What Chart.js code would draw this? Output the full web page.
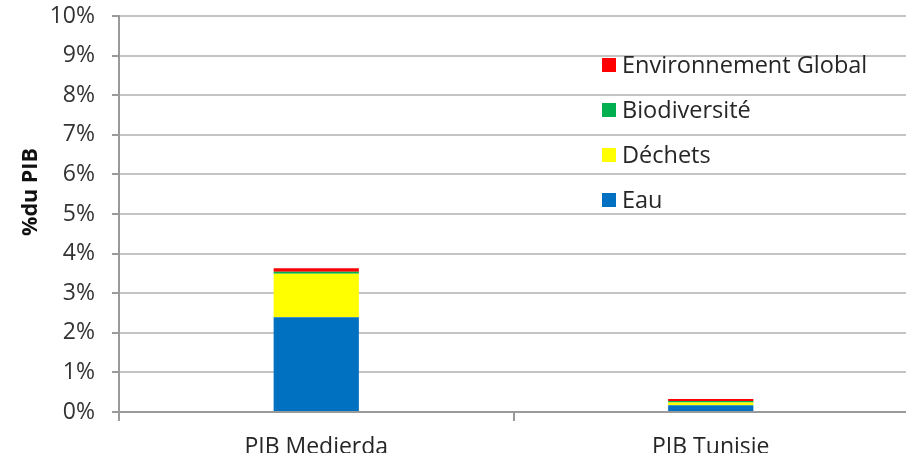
<!DOCTYPE html>
<html>
<head>
<meta charset="utf-8">
<script src="https://cdn.jsdelivr.net/npm/chart.js@4"></script>
<style>
  html, body { margin: 0; padding: 0; background: #fff; overflow: hidden; }
  .wrap { width: 930px; height: 480px; position: relative; }
</style>
</head>
<body>
<div class="wrap"><canvas id="canvas"></canvas></div>
<script>
// values, in % of GDP
const categories = ['PIB Medjerda', 'PIB Tunisie'];
const eau = [2.39, 0.17];
const dechets = [1.10, 0.07];
const biodiversite = [0.05, 0.04];
const envGlobal = [0.09, 0.05];
const seriesNames = ['Eau', 'Déchets', 'Biodiversité', 'Environnement Global'];
const seriesColors = ['#0070C0', '#FFFF00', '#00B050', '#FF0000'];
const yTicks = [0, 1, 2, 3, 4, 5, 6, 7, 8, 9, 10];
const yTitle = '%du PIB';

const FONT = '"Open Sans", sans-serif';

// legend inside the plot, last series on top
const insideLegend = {
  id: 'insideLegend',
  afterDraw(chart) {
    const ctx = chart.ctx;
    const ds = chart.data.datasets.slice().reverse();
    ctx.save();
    ctx.font = '23.5px ' + FONT;
    ctx.textBaseline = 'middle';
    ds.forEach((d, i) => {
      const y = 65 + i * 45;
      ctx.fillStyle = d.backgroundColor;
      ctx.fillRect(602, y - 7, 14, 14);
      ctx.fillStyle = '#262626';
      ctx.fillText(d.label, 622, y + 1);
    });
    // y axis title
    ctx.translate(31, 192);
    ctx.rotate(-Math.PI / 2);
    ctx.font = 'bold 21.5px ' + FONT;
    ctx.textAlign = 'center';
    ctx.fillStyle = '#111';
    ctx.fillText(yTitle, 0, 0);
    ctx.restore();
  }
};

const values = [eau, dechets, biodiversite, envGlobal];

new Chart(document.getElementById('canvas').getContext('2d'), {
  type: 'bar',
  data: {
    labels: categories,
    datasets: values.map((v, i) => ({
      label: seriesNames[i],
      data: v,
      backgroundColor: seriesColors[i],
      borderWidth: 0,
      barPercentage: 0.216,
      categoryPercentage: 1
    }))
  },
  options: {
    responsive: true,
    maintainAspectRatio: false,
    animation: false,
    layout: { padding: { top: 16, right: 22, left: 0, bottom: 0 } },
    plugins: {
      legend: { display: false },
      title: { display: false },
      tooltip: { enabled: false }
    },
    scales: {
      x: {
        stacked: true,
        grid: {
          offset: true,
          drawOnChartArea: false,
          drawTicks: true,
          tickLength: 9,
          color: '#9a9a9a',
          lineWidth: 2
        },
        border: { color: '#9a9a9a', width: 2 },
        ticks: {
          color: '#262626',
          font: { family: FONT, size: 23 },
          padding: 13,
          maxRotation: 0
        },
        afterFit(scale) {
          scale.height = 68;
          scale.paddingLeft = 0;
          scale.paddingRight = 0;
        }
      },
      y: {
        stacked: true,
        min: 0,
        max: 10,
        afterBuildTicks(scale) { scale.ticks = yTicks.map(v => ({ value: v })); },
        grid: {
          color: '#c4c4c4',
          lineWidth: 2,
          tickLength: 7,
          tickColor: '#9a9a9a'
        },
        border: { color: '#9a9a9a', width: 2 },
        ticks: {
          color: '#333',
          font: { family: FONT, size: 23 },
          padding: 17,
          callback: v => v + '%'
        },
        afterFit(scale) {
          scale.width = 119;
          scale.paddingTop = 0;
          scale.paddingBottom = 0;
        }
      }
    }
  },
  plugins: [insideLegend]
});
</script>
</body>
</html>
